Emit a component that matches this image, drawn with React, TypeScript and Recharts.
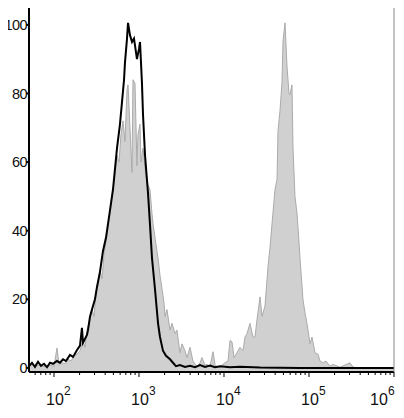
import { Area, ComposedChart, Line, XAxis, YAxis } from "recharts"

// channel positions in log10 units, counts in % of max
const controlLog = [1.706, 1.741, 1.776, 1.812, 1.847, 1.882, 1.918, 1.953, 1.988, 2.035, 2.071, 2.106, 2.141, 2.188, 2.224, 2.271, 2.306, 2.329, 2.341, 2.365, 2.388, 2.4, 2.424, 2.447, 2.482, 2.506, 2.541, 2.576, 2.612, 2.659, 2.694, 2.741, 2.776, 2.8, 2.824, 2.835, 2.859, 2.871, 2.894, 2.918, 2.941, 2.953, 2.976, 3.0, 3.012, 3.035, 3.047, 3.071, 3.106, 3.129, 3.153, 3.188, 3.224, 3.247, 3.282, 3.318, 3.365, 3.4, 3.435, 3.482, 3.541, 3.6, 3.659, 3.718, 3.776, 3.835, 3.894, 3.953, 4.071, 4.188, 4.424, 4.894, 6.0]
const controlCount = [0.5, 1.5, 0.3, 1.8, 0.6, 1.2, 0.2, 1.5, 1.2, 2.0, 1.5, 2.5, 2.0, 3.8, 3.2, 5.2, 6.5, 11.7, 7.3, 8.5, 9.6, 11, 15, 17, 20, 23.6, 28, 34, 38, 46, 52, 64, 71, 77.5, 84, 89, 96, 100.6, 97, 95, 96, 94, 90, 93, 95, 83, 74, 62, 51, 42, 32, 23, 13, 9, 5, 3.5, 2.5, 1.5, 0.5, 0.8, 0.3, 0.6, 0.2, 0.8, 0.3, 0.7, 0.2, 0.5, 0.2, 0.3, 0.1, 0, 0]

const sampleLog = [1.706, 1.741, 1.776, 1.812, 1.859, 1.906, 1.953, 2.0, 2.035, 2.059, 2.094, 2.129, 2.165, 2.2, 2.235, 2.271, 2.306, 2.341, 2.365, 2.388, 2.424, 2.447, 2.471, 2.494, 2.518, 2.541, 2.565, 2.588, 2.624, 2.647, 2.671, 2.694, 2.718, 2.741, 2.765, 2.788, 2.812, 2.835, 2.859, 2.871, 2.894, 2.918, 2.929, 2.953, 2.976, 2.988, 3.012, 3.024, 3.047, 3.071, 3.094, 3.129, 3.153, 3.165, 3.2, 3.224, 3.247, 3.271, 3.294, 3.306, 3.329, 3.365, 3.388, 3.424, 3.447, 3.482, 3.506, 3.541, 3.565, 3.6, 3.635, 3.682, 3.718, 3.741, 3.776, 3.8, 3.835, 3.871, 3.894, 3.929, 3.976, 4.012, 4.047, 4.071, 4.094, 4.118, 4.153, 4.188, 4.224, 4.247, 4.271, 4.306, 4.341, 4.365, 4.388, 4.424, 4.447, 4.482, 4.518, 4.541, 4.565, 4.6, 4.624, 4.635, 4.659, 4.682, 4.694, 4.718, 4.741, 4.765, 4.776, 4.8, 4.812, 4.835, 4.859, 4.882, 4.894, 4.918, 4.929, 4.953, 4.976, 5.012, 5.035, 5.071, 5.106, 5.129, 5.165, 5.2, 5.247, 5.282, 5.365, 5.482, 5.518, 5.6, 6.0]
const sampleCount = [0.3, 1.0, 0.2, 0.8, 0.5, 0.3, 0.8, 0.4, 5.8, 1.0, 1.5, 1.2, 2.5, 2.0, 3.5, 4.0, 5.0, 8, 6, 11, 14, 17, 15, 22, 25, 28.5, 26, 33, 39, 43, 48, 52, 57, 62, 60, 68, 72, 66, 81, 82.5, 70, 57, 84, 83, 59, 68, 71, 60, 64, 58, 54, 52, 45, 42, 36, 32, 27, 23, 19, 15, 17, 11, 13, 10, 11, 4.4, 7, 5, 3, 6, 2, 0.3, 1.5, 3, 0.8, 1, 0.4, 4.7, 1, 0, 0.8, 1.5, 2, 8, 7.6, 3, 4.4, 6, 5, 9, 10, 13, 9, 9, 14, 20.7, 15, 18, 29.5, 35, 42, 52, 55, 69, 75, 83, 95, 100.6, 88, 80, 79.6, 82.5, 64, 50, 45, 37, 32, 24, 20, 16, 13, 7, 9, 4.4, 4, 2, 1.5, 2, 0.5, 1, 0.2, 1.5, 0.2, 0, 0]

const decades = [2, 3, 4, 5, 6]
const yTicks = [0, 20, 40, 60, 80, 100]

const xDomain = [1.706, 6]
const yDomain = [-1.2, 105.5]

// log-spaced ticks: majors at decades, minors at 2..9 x 10^n
const xTicks: number[] = []
for (let n = 1; n <= 5; n++) {
  for (let k = 1; k <= 9; k++) {
    const v = n + Math.log10(k)
    if (v >= xDomain[0] && v <= xDomain[1]) xTicks.push(v)
  }
}
xTicks.push(6)

type Row = { x: number; sample?: number; control?: number }
const rows = new Map<number, Row>()
sampleLog.forEach((x, i) => {
  const r = rows.get(x) ?? { x }
  r.sample = sampleCount[i]
  rows.set(x, r)
})
controlLog.forEach((x, i) => {
  const r = rows.get(x) ?? { x }
  r.control = controlCount[i]
  rows.set(x, r)
})
const table = Array.from(rows.values()).sort((a, b) => a.x - b.x)

const font = "Liberation Sans"

function LogTick(props: any) {
  const { x, y, payload } = props
  const v = payload.value
  const major = decades.some((d) => Math.abs(d - v) < 1e-6)
  const shift = v === 6 ? -15 : 1
  return (
    <g>
      <line x1={x} x2={x} y1={y} y2={y + (major ? 5 : 3)} stroke="#000" strokeWidth={1} />
      {major && (
        <>
          <text x={x + shift} y={y + 33} textAnchor="middle" fontSize={16} fontFamily={font} fill="#111">
            10
          </text>
          <text x={x + shift + 9} y={y + 23} fontSize={12} fontFamily={font} fill="#111">
            {Math.round(v)}
          </text>
        </>
      )}
    </g>
  )
}

function CountTick(props: any) {
  const { y, payload } = props
  // right-aligned against the axis, tight so "100" stays inside the frame
  return (
    <text x={27} y={y} dy="0.355em" textAnchor="end" fontSize={14.5} letterSpacing={-0.6} fontFamily={font} fill="#111">
      {String(payload.value)}
    </text>
  )
}

export default function App() {
  return (
    <div style={{ margin: -8, width: 404, height: 418, background: "#fff" }}>
      <ComposedChart width={404} height={418} data={table} margin={{ top: 5, right: 9, bottom: 6, left: 0 }}>
        <XAxis
          dataKey="x"
          type="number"
          domain={xDomain}
          ticks={xTicks}
          interval={0}
          allowDataOverflow
          height={40}
          stroke="#000"
          strokeWidth={2}
          tickLine={false}
          tickSize={0}
          tickMargin={0}
          tick={<LogTick />}
        />
        <XAxis xAxisId="top" orientation="top" type="number" domain={xDomain} height={1} tick={false} tickLine={false} stroke="#888" />
        <YAxis
          type="number"
          domain={yDomain}
          ticks={yTicks}
          interval={0}
          allowDataOverflow
          width={29}
          stroke="#000"
          strokeWidth={2}
          tickSize={3}
          tickMargin={0}
          tick={<CountTick />}
        />
        <YAxis yAxisId="right" orientation="right" type="number" domain={yDomain} width={1} tick={false} tickLine={false} stroke="#888" />
        <Area
          dataKey="sample"
          type="linear"
          fill="#d0d0d0"
          fillOpacity={1}
          stroke="#ababab"
          strokeWidth={1}
          baseValue={-1.2}
          connectNulls
          isAnimationActive={false}
        />
        <Line
          dataKey="control"
          type="linear"
          stroke="#000"
          strokeWidth={2}
          dot={false}
          connectNulls
          isAnimationActive={false}
        />
      </ComposedChart>
    </div>
  )
}
